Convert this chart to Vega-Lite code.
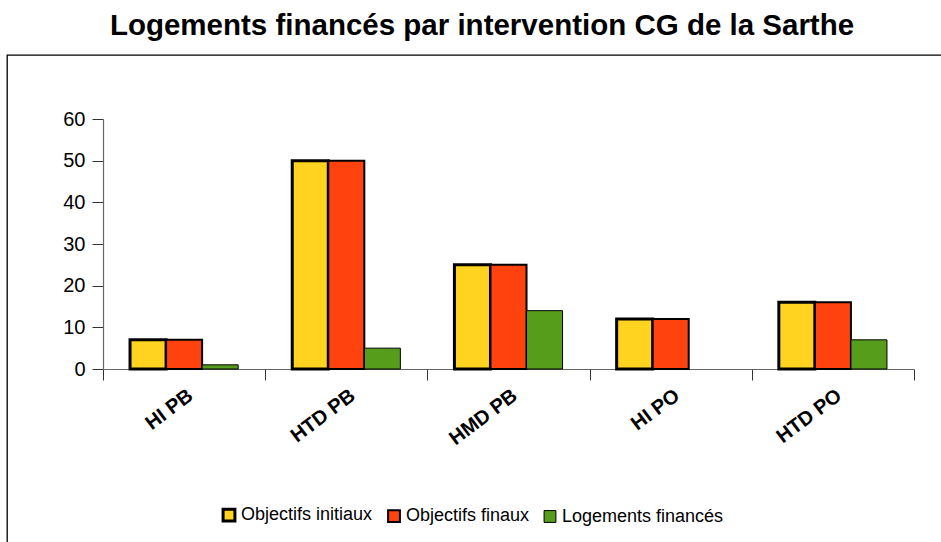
{
  "$schema": "https://vega.github.io/schema/vega-lite/v6.json",
  "autosize": "none",
  "padding": {"left": 7, "top": 55, "right": 0, "bottom": 0},
  "width": 950,
  "height": 500,
  "background": "white",
  "title": {
    "text": "Logements financés par intervention CG de la Sarthe",
    "font": "Liberation Sans",
    "fontSize": 29.5,
    "fontWeight": "bold",
    "color": "black",
    "anchor": "middle",
    "offset": 14
  },
  "config": {
    "view": {"stroke": "black", "strokeWidth": 1.3},
    "font": "Liberation Sans"
  },
  "data": {
    "values": [
      {"type": "HI PB", "serie": "Objectifs initiaux", "valeur": 7},
      {"type": "HI PB", "serie": "Objectifs finaux", "valeur": 7},
      {"type": "HI PB", "serie": "Logements financés", "valeur": 1},
      {"type": "HTD PB", "serie": "Objectifs initiaux", "valeur": 50},
      {"type": "HTD PB", "serie": "Objectifs finaux", "valeur": 50},
      {"type": "HTD PB", "serie": "Logements financés", "valeur": 5},
      {"type": "HMD PB", "serie": "Objectifs initiaux", "valeur": 25},
      {"type": "HMD PB", "serie": "Objectifs finaux", "valeur": 25},
      {"type": "HMD PB", "serie": "Logements financés", "valeur": 14},
      {"type": "HI PO", "serie": "Objectifs initiaux", "valeur": 12},
      {"type": "HI PO", "serie": "Objectifs finaux", "valeur": 12},
      {"type": "HTD PO", "serie": "Objectifs initiaux", "valeur": 16},
      {"type": "HTD PO", "serie": "Objectifs finaux", "valeur": 16},
      {"type": "HTD PO", "serie": "Logements financés", "valeur": 7}
    ]
  },
  "mark": {"type": "bar", "stroke": "black"},
  "encoding": {
    "x": {
      "field": "type",
      "type": "nominal",
      "sort": ["HI PB", "HTD PB", "HMD PB", "HI PO", "HTD PO"],
      "scale": {"range": [96, 907], "paddingInner": 0, "paddingOuter": 0},
      "axis": {
        "title": null,
        "orient": "bottom",
        "offset": -186,
        "domainColor": "#666666",
        "domainWidth": 1.2,
        "tickColor": "#333333",
        "tickSize": 11,
        "tickBand": "extent",
        "labelAngle": -37,
        "labelAlign": "right",
        "labelBaseline": "top",
        "labelPadding": 5,
        "labelDx": -4,
        "labelFont": "Liberation Sans",
        "labelFontSize": 20,
        "labelFontWeight": "bold",
        "labelColor": "black"
      }
    },
    "xOffset": {
      "field": "serie",
      "type": "nominal",
      "sort": ["Objectifs initiaux", "Objectifs finaux", "Logements financés"],
      "scale": {"paddingInner": 0, "paddingOuter": 0.75}
    },
    "y": {
      "field": "valeur",
      "type": "quantitative",
      "scale": {"domain": [0, 60], "range": [314, 64], "nice": false},
      "axis": {
        "title": null,
        "orient": "left",
        "offset": -96,
        "values": [0, 10, 20, 30, 40, 50, 60],
        "grid": false,
        "domainColor": "#666666",
        "domainWidth": 1.2,
        "tickColor": "#333333",
        "tickSize": 11,
        "labelPadding": 7,
        "labelFont": "Liberation Sans",
        "labelFontSize": 20,
        "labelColor": "black"
      }
    },
    "color": {
      "field": "serie",
      "type": "nominal",
      "sort": ["Objectifs initiaux", "Objectifs finaux", "Logements financés"],
      "scale": {
        "domain": ["Objectifs initiaux", "Objectifs finaux", "Logements financés"],
        "range": ["#FFD320", "#FF420E", "#579D1C"]
      },
      "legend": {
        "title": null,
        "orient": "none",
        "direction": "horizontal",
        "legendX": 213,
        "legendY": 451,
        "padding": 0,
        "symbolType": "square",
        "symbolSize": 140,
        "symbolStrokeColor": "black",
        "symbolOpacity": 1,
        "labelFont": "Liberation Sans",
        "labelFontSize": 18,
        "labelColor": "black",
        "labelOffset": 3,
        "labelLimit": 400,
        "columnPadding": 11,
        "encode": {
          "symbols": {
            "update": {
              "strokeWidth": {"signal": "datum.value === 'Objectifs initiaux' ? 3 : 1"},
              "stroke": {"value": "black"}
            }
          }
        }
      }
    },
    "strokeWidth": {
      "field": "serie",
      "type": "nominal",
      "scale": {
        "domain": ["Objectifs initiaux", "Objectifs finaux", "Logements financés"],
        "range": [3, 1, 1]
      },
      "legend": null
    }
  }
}
